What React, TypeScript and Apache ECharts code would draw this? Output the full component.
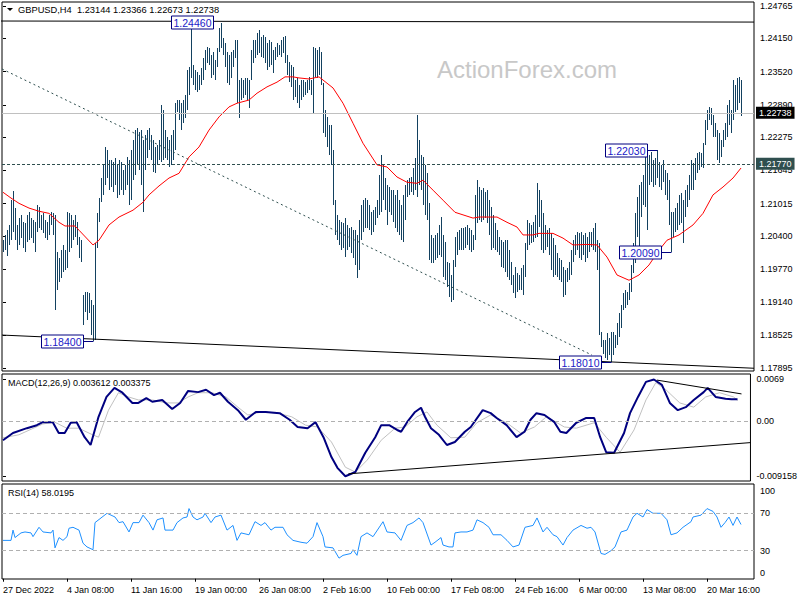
import React, { useEffect, useRef } from "react";
import * as echarts from "echarts";

const FONT = "'Liberation Sans', Arial, sans-serif";

const xLabels = ["27 Dec 2022", "4 Jan 08:00", "11 Jan 16:00", "19 Jan 00:00", "26 Jan 08:00", "2 Feb 16:00", "10 Feb 00:00", "17 Feb 08:00", "24 Feb 16:00", "6 Mar 00:00", "13 Mar 08:00", "20 Mar 16:00"];
const xLabelIdx = [0, 32, 64, 96, 128, 160, 192, 224, 256, 288, 320, 352];

const priceTicks = [1.24765, 1.2415, 1.2352, 1.2289, 1.22275, 1.21645, 1.21015, 1.204, 1.1977, 1.1914, 1.18525, 1.17895];
const macdTicks = [0.0069, 0, -0.009158];
const macdTickLabels = ["0.0069", "0.00", "-0.009158"];
const rsiTicks = [30, 70];
const rsiEdgeTicks = [0, 100];

const highs = [
  1.2032, 1.2042, 1.2051, 1.2061, 1.2108, 1.2125, 1.2093, 1.2061, 1.2074, 1.2080,
  1.2066, 1.2064, 1.2080, 1.2085, 1.2074, 1.2070, 1.2066, 1.2099, 1.2095, 1.2080,
  1.2083, 1.2070, 1.2066, 1.2080, 1.2085, 1.2083, 1.2080, 1.2009, 1.1998, 1.2013,
  1.2023, 1.2013, 1.2085, 1.2083, 1.2080, 1.2070, 1.2080, 1.2066, 1.2038, 1.2032,
  1.1928, 1.1933, 1.1933, 1.1931, 1.1918, 1.1909, 1.2026, 1.2083, 1.2112, 1.2150,
  1.2175, 1.2209, 1.2203, 1.2184, 1.2184, 1.2180, 1.2188, 1.2175, 1.2184, 1.2180,
  1.2165, 1.2175, 1.2190, 1.2184, 1.2203, 1.2222, 1.2241, 1.2245, 1.2237, 1.2241,
  1.2222, 1.2232, 1.2241, 1.2245, 1.2232, 1.2222, 1.2209, 1.2213, 1.2222, 1.2289,
  1.2279, 1.2241, 1.2228, 1.2222, 1.2232, 1.2241, 1.2292, 1.2298, 1.2298, 1.2292,
  1.2298, 1.2308, 1.2355, 1.2361, 1.2446, 1.2365, 1.2355, 1.2351, 1.2346, 1.2359,
  1.2378, 1.2393, 1.2399, 1.2397, 1.2384, 1.2389, 1.2374, 1.2397, 1.2435, 1.2444,
  1.2416, 1.2406, 1.2389, 1.2384, 1.2389, 1.2393, 1.2412, 1.2412, 1.2336, 1.2340,
  1.2336, 1.2340, 1.2340, 1.2336, 1.2393, 1.2412, 1.2412, 1.2425, 1.2431, 1.2418,
  1.2422, 1.2418, 1.2406, 1.2412, 1.2408, 1.2393, 1.2399, 1.2406, 1.2403, 1.2412,
  1.2418, 1.2420, 1.2384, 1.2370, 1.2365, 1.2361, 1.2336, 1.2340, 1.2327, 1.2336,
  1.2336, 1.2332, 1.2336, 1.2342, 1.2336, 1.2399, 1.2397, 1.2393, 1.2399, 1.2389,
  1.2330, 1.2279, 1.2266, 1.2251, 1.2251, 1.2203, 1.2108, 1.2080, 1.2070, 1.2066,
  1.2064, 1.2074, 1.2061, 1.2055, 1.2057, 1.2051, 1.2051, 1.2042, 1.2070, 1.2099,
  1.2108, 1.2112, 1.2108, 1.2099, 1.2085, 1.2089, 1.2095, 1.2108, 1.2156, 1.2194,
  1.2175, 1.2150, 1.2137, 1.2133, 1.2127, 1.2127, 1.2118, 1.2127, 1.2108, 1.2099,
  1.2118, 1.2137, 1.2146, 1.2150, 1.2152, 1.2169, 1.2188, 1.2270, 1.2222, 1.2194,
  1.2190, 1.2175, 1.2159, 1.2102, 1.2042, 1.2036, 1.2042, 1.2045, 1.2061, 1.2076,
  1.2042, 1.2028, 1.1990, 1.1988, 1.1966, 1.1994, 1.2038, 1.2047, 1.2051, 1.2055,
  1.2055, 1.2057, 1.2061, 1.2055, 1.2051, 1.2042, 1.2118, 1.2146, 1.2133, 1.2127,
  1.2131, 1.2123, 1.2127, 1.2108, 1.2095, 1.2080, 1.2064, 1.2051, 1.2038, 1.2032,
  1.2028, 1.2032, 1.2032, 1.2013, 1.1990, 1.1966, 1.1981, 1.1969, 1.1966, 1.1979,
  1.1985, 1.2026, 1.2070, 1.2064, 1.2061, 1.2066, 1.2080, 1.2140, 1.2127, 1.2108,
  1.2083, 1.2061, 1.2051, 1.2055, 1.2045, 1.2036, 1.2023, 1.2007, 1.1998, 1.1994,
  1.1981, 1.1975, 1.1979, 1.1990, 1.2013, 1.2032, 1.2042, 1.2047, 1.2045, 1.2047,
  1.2042, 1.2045, 1.2038, 1.2047, 1.2047, 1.2055, 1.2064, 1.2032, 1.2026, 1.1857,
  1.1842, 1.1842, 1.1855, 1.1846, 1.1857, 1.1857, 1.1852, 1.1874, 1.1893, 1.1909,
  1.1931, 1.1937, 1.1933, 1.1950, 1.1985, 1.2026, 1.2083, 1.2114, 1.2137, 1.2142,
  1.2156, 1.2190, 1.2197, 1.2194, 1.2199, 1.2184, 1.2188, 1.2203, 1.2180, 1.2175,
  1.2184, 1.2165, 1.2159, 1.2146, 1.2085, 1.2085, 1.2093, 1.2102, 1.2118, 1.2121,
  1.2108, 1.2127, 1.2137, 1.2156, 1.2184, 1.2178, 1.2188, 1.2197, 1.2199, 1.2197,
  1.2216, 1.2260, 1.2279, 1.2285, 1.2283, 1.2270, 1.2254, 1.2241, 1.2235, 1.2222,
  1.2241, 1.2254, 1.2289, 1.2298, 1.2279, 1.2336, 1.2327, 1.2340, 1.2342, 1.23366,
];

const lows = [
  1.2009, 1.2013, 1.2002, 1.2023, 1.2032, 1.2047, 1.2032, 1.2013, 1.2023, 1.2036,
  1.2017, 1.2009, 1.2028, 1.2032, 1.2036, 1.2026, 1.2009, 1.2047, 1.2055, 1.2051,
  1.2045, 1.2036, 1.2032, 1.2042, 1.2061, 1.2042, 1.1899, 1.1937, 1.1952, 1.1960,
  1.1971, 1.1975, 1.1979, 1.2009, 1.2017, 1.2032, 1.2038, 1.2023, 1.1998, 1.1990,
  1.1871, 1.1895, 1.1880, 1.1893, 1.1852, 1.1840, 1.1842, 1.2017, 1.2066, 1.2104,
  1.2118, 1.2137, 1.2150, 1.2127, 1.2133, 1.2123, 1.2137, 1.2112, 1.2118, 1.2127,
  1.2118, 1.2127, 1.2137, 1.2099, 1.2108, 1.2146, 1.2156, 1.2175, 1.2165, 1.2137,
  1.2085, 1.2165, 1.2188, 1.2203, 1.2184, 1.2161, 1.2159, 1.2175, 1.2184, 1.2180,
  1.2184, 1.2188, 1.2184, 1.2171, 1.2175, 1.2184, 1.2203, 1.2275, 1.2260, 1.2241,
  1.2254, 1.2264, 1.2279, 1.2308, 1.2340, 1.2327, 1.2317, 1.2313, 1.2317, 1.2327,
  1.2336, 1.2355, 1.2368, 1.2365, 1.2340, 1.2346, 1.2336, 1.2361, 1.2389, 1.2397,
  1.2384, 1.2361, 1.2330, 1.2327, 1.2340, 1.2361, 1.2378, 1.2292, 1.2264, 1.2298,
  1.2302, 1.2308, 1.2298, 1.2283, 1.2336, 1.2368, 1.2378, 1.2384, 1.2387, 1.2380,
  1.2378, 1.2368, 1.2355, 1.2361, 1.2365, 1.2349, 1.2374, 1.2380, 1.2384, 1.2380,
  1.2387, 1.2368, 1.2346, 1.2332, 1.2323, 1.2298, 1.2304, 1.2292, 1.2283, 1.2298,
  1.2304, 1.2308, 1.2311, 1.2317, 1.2308, 1.2273, 1.2342, 1.2340, 1.2346, 1.2327,
  1.2235, 1.2228, 1.2209, 1.2194, 1.2175, 1.2099, 1.2042, 1.2032, 1.2023, 1.2013,
  1.2017, 1.2000, 1.2013, 1.2019, 1.2007, 1.1998, 1.1985, 1.1960, 1.1975, 1.2032,
  1.2047, 1.2055, 1.2055, 1.2051, 1.2042, 1.2047, 1.2061, 1.2074, 1.2080, 1.2085,
  1.2108, 1.2089, 1.2061, 1.2085, 1.2080, 1.2066, 1.2055, 1.2047, 1.2042, 1.2032,
  1.2028, 1.2070, 1.2114, 1.2118, 1.2123, 1.2118, 1.2127, 1.2114, 1.2137, 1.2127,
  1.2099, 1.2080, 1.2070, 1.1994, 1.1988, 1.1988, 1.1994, 1.1998, 1.2004, 1.2000,
  1.1962, 1.1956, 1.1943, 1.1924, 1.1914, 1.1918, 1.1981, 1.2004, 1.2013, 1.2013,
  1.2013, 1.2017, 1.2023, 1.2013, 1.2009, 1.2013, 1.2032, 1.2064, 1.2070, 1.2066,
  1.2070, 1.2074, 1.2064, 1.2042, 1.2013, 1.2017, 1.2013, 1.2009, 1.2004, 1.1981,
  1.1979, 1.1971, 1.1962, 1.1956, 1.1947, 1.1931, 1.1922, 1.1933, 1.1937, 1.1937,
  1.1928, 1.1962, 1.2013, 1.2023, 1.2026, 1.2028, 1.2036, 1.2038, 1.2057, 1.2013,
  1.2007, 1.2013, 1.2019, 1.2004, 1.1975, 1.1962, 1.1966, 1.1962, 1.1956, 1.1952,
  1.1924, 1.1928, 1.1952, 1.1956, 1.1966, 1.1990, 1.2004, 1.2013, 1.1998, 1.1994,
  1.2004, 1.1990, 1.1998, 1.2009, 1.2019, 1.2013, 1.2009, 1.1975, 1.1852, 1.1829,
  1.1817, 1.1808, 1.1804, 1.1814, 1.1801, 1.1814, 1.1827, 1.1833, 1.1848, 1.1865,
  1.1899, 1.1903, 1.1909, 1.1918, 1.1933, 1.1969, 1.1988, 1.2038, 1.2007, 1.2076,
  1.2099, 1.2095, 1.2051, 1.2137, 1.2142, 1.2133, 1.2137, 1.2150, 1.2133, 1.2127,
  1.2142, 1.2118, 1.2108, 1.2061, 1.2009, 1.2038, 1.2047, 1.2051, 1.2061, 1.2064,
  1.2026, 1.2076, 1.2095, 1.2108, 1.2127, 1.2127, 1.2146, 1.2159, 1.2165, 1.2171,
  1.2169, 1.2213, 1.2241, 1.2260, 1.2251, 1.2228, 1.2228, 1.2184, 1.2178, 1.2190,
  1.2209, 1.2222, 1.2228, 1.2251, 1.2235, 1.2260, 1.2275, 1.2279, 1.2292, 1.22673,
];

// moving average (red), sampled [barIndex, price]
const maPoints = [
  [0, 1.2123], [4, 1.2112], [8, 1.2102], [13, 1.2093], [18, 1.2087], [23, 1.2083], [28, 1.2066], [31, 1.2059],
  [36, 1.2059], [38, 1.2051], [45, 1.2023], [48, 1.2032], [53, 1.2061], [58, 1.2076], [65, 1.2089], [70, 1.2104],
  [73, 1.2118], [78, 1.2135], [83, 1.2150], [88, 1.2159], [93, 1.2190], [98, 1.2209], [103, 1.2241], [108, 1.2266],
  [113, 1.2285], [117, 1.2292], [123, 1.2298], [127, 1.2311], [132, 1.2323], [137, 1.2332], [141, 1.2342], [145, 1.2342],
  [148, 1.2340], [153, 1.2338], [158, 1.2342], [165, 1.2321], [170, 1.2292], [175, 1.2254], [180, 1.2216], [187, 1.2175],
  [192, 1.2171], [197, 1.2152], [202, 1.2142], [207, 1.2140], [210, 1.2146], [215, 1.2127], [220, 1.2108], [226, 1.2085],
  [235, 1.2074], [238, 1.2076], [247, 1.2076], [252, 1.2066], [257, 1.2057], [260, 1.2042], [265, 1.2042], [268, 1.2045],
  [275, 1.2045], [280, 1.2036], [285, 1.2023], [292, 1.2024], [297, 1.2023], [302, 1.2000], [307, 1.1966], [313, 1.1956],
  [318, 1.1966], [323, 1.1985], [328, 1.2013], [332, 1.2032], [338, 1.2042], [345, 1.2061], [350, 1.2083], [355, 1.2118],
  [360, 1.2133], [365, 1.2150], [369, 1.2169],
];

const macdMain = [
  [0, -0.0032], [5, -0.0020], [12, -0.0012], [17, -0.0007], [20, -0.0002], [25, -0.0002], [28, -0.0020], [31, -0.0020],
  [34, -0.0003], [37, -0.0002], [41, -0.0027], [44, -0.0040], [48, 0.0007], [52, 0.0040], [56, 0.0055], [60, 0.0047],
  [65, 0.0030], [68, 0.0030], [72, 0.0038], [75, 0.0032], [80, 0.0035], [85, 0.0020], [89, 0.0030], [93, 0.0050],
  [98, 0.0048], [102, 0.0052], [106, 0.0043], [109, 0.0047], [113, 0.0032], [118, 0.0018], [122, 0.0002], [127, 0.0015],
  [132, 0.0015], [139, 0.0013], [144, 0.0002], [148, -0.0010], [153, -0.0012], [157, -0.0002], [161, -0.0027], [165, -0.0060],
  [168, -0.0078], [172, -0.0092], [177, -0.0085], [182, -0.0053], [187, -0.0027], [190, -0.0007], [194, -0.0007], [198, -0.0015],
  [200, -0.0018], [203, -0.0002], [207, 0.0015], [210, 0.0022], [212, 0.0007], [215, -0.0012], [219, -0.0023], [223, -0.0040],
  [227, -0.0035], [232, -0.0018], [235, -0.0010], [241, 0.0018], [245, 0.0013], [248, 0.0005], [253, -0.0007], [258, -0.0027],
  [262, -0.0018], [265, 0.0002], [268, 0.0013], [272, 0.0010], [277, -0.0002], [280, -0.0018], [283, -0.0020], [288, -0.0003],
  [293, 0.0005], [297, 0.0005], [300, -0.0027], [303, -0.0052], [307, -0.0053], [312, -0.0020], [315, 0.0013], [319, 0.0040],
  [323, 0.0065], [327, 0.0069], [331, 0.0060], [335, 0.0030], [339, 0.0018], [343, 0.0023], [347, 0.0035], [352, 0.0048],
  [354, 0.0055], [358, 0.0040], [363, 0.0037], [366, 0.0036], [369, 0.0036],
];

const macdSignal = [
  [0, -0.0028], [8, -0.0023], [20, -0.0005], [26, -0.0002], [32, -0.0012], [38, -0.0012], [45, -0.0023], [48, -0.0027],
  [53, 0.0018], [58, 0.0047], [63, 0.0040], [68, 0.0035], [75, 0.0035], [82, 0.0030], [88, 0.0030], [93, 0.0040],
  [98, 0.0047], [105, 0.0047], [112, 0.0040], [118, 0.0023], [123, 0.0010], [130, 0.0015], [138, 0.0013], [145, 0.0007],
  [152, -0.0007], [158, -0.0010], [165, -0.0035], [172, -0.0077], [177, -0.0085], [183, -0.0065], [190, -0.0032], [197, -0.0012],
  [202, -0.0010], [208, 0.0007], [213, 0.0015], [218, -0.0007], [225, -0.0028], [232, -0.0027], [238, -0.0003], [245, 0.0010],
  [253, -0.0003], [260, -0.0020], [267, -0.0010], [273, 0.0007], [282, -0.0010], [288, -0.0012], [297, -0.0003], [303, -0.0027],
  [310, -0.0052], [317, -0.0015], [323, 0.0035], [328, 0.0064], [333, 0.0052], [340, 0.0030], [347, 0.0023], [353, 0.0040],
  [360, 0.0047], [367, 0.0040], [369, 0.0034],
];

const rsiPoints = [
  [0, 41], [4, 41], [5, 52], [6, 44], [9, 49], [11, 50], [14, 49], [15, 45], [18, 55], [20, 50], [24, 49], [25, 52], [26, 33],
  [28, 44], [30, 41], [32, 45], [33, 54], [35, 55], [38, 52], [40, 38], [42, 34], [45, 31], [46, 60], [49, 65], [52, 70],
  [56, 66], [58, 60], [60, 61], [63, 50], [65, 60], [68, 60], [70, 68], [73, 60], [75, 52], [77, 63], [80, 65], [81, 52],
  [85, 52], [87, 60], [90, 65], [92, 66], [93, 75], [95, 66], [97, 63], [100, 66], [101, 70], [104, 60], [106, 66], [109, 68],
  [112, 52], [115, 57], [117, 41], [119, 49], [123, 47], [126, 61], [129, 57], [131, 60], [134, 52], [136, 55], [140, 55],
  [142, 47], [145, 41], [149, 39], [152, 38], [155, 45], [157, 60], [160, 45], [161, 34], [165, 33], [168, 22], [170, 25],
  [174, 27], [175, 31], [177, 25], [179, 45], [182, 49], [185, 45], [190, 61], [192, 50], [196, 49], [199, 41], [202, 57],
  [205, 60], [208, 65], [210, 60], [214, 36], [216, 39], [219, 44], [220, 36], [223, 34], [225, 34], [226, 49], [229, 50],
  [232, 50], [235, 52], [237, 63], [240, 60], [243, 55], [245, 47], [249, 47], [252, 41], [255, 34], [258, 36], [261, 55],
  [265, 57], [267, 65], [270, 50], [272, 55], [275, 47], [277, 45], [280, 36], [282, 44], [285, 52], [289, 57], [292, 54],
  [294, 55], [296, 50], [299, 27], [301, 26], [304, 30], [306, 34], [309, 50], [312, 52], [315, 66], [317, 70], [320, 66],
  [322, 74], [325, 70], [329, 70], [332, 63], [334, 47], [337, 49], [340, 55], [344, 61], [345, 66], [349, 68], [352, 75],
  [355, 72], [357, 66], [359, 55], [361, 60], [363, 66], [365, 57], [367, 66], [369, 58],
];

// drawn trend lines [barIndex, value]
const resistanceLine = [[-1.5, 1.2448], [375.5, 1.2446]];
const supportLine = [[-0.5, 1.1852], [375.5, 1.1789]];
const dottedLine = [[-0.5, 1.2357], [294.5, 1.1814]];
const macdLowLine = [[173.5, -0.0088], [375.5, -0.0036]];
const macdHighLine = [[328.5, 0.0068], [371, 0.0045]];

// price labels
const annIdx = [94, 45, 304, 334, 327];
const annPrice = [1.2446, 1.184, 1.1801, 1.2009, 1.2203];
const annCentered = [1, 0, 0, 0, 0];

const bidPrice = 1.22738;
const levelPrice = 1.2177;

const BAR = "#134160";
const NAVY = "#000080";

function buildOption() {
  const barData = highs.map((h, i) => [i, h, lows[i]]);
  const annData = annIdx.map((i, k) => [i, annPrice[k], annCentered[k]]);
  const labelStyle = { color: "#000", fontSize: 9, fontFamily: FONT };
  const xBase = { type: "value", min: -0.5, max: 375.5, splitLine: { show: false }, axisLine: { show: false } };
  const plainLine = (data: number[][], xi: number, yi: number, style: any) => ({
    type: "line", xAxisIndex: xi, yAxisIndex: yi, data, symbol: "none", silent: true,
    lineStyle: style, z: 4,
  });
  const priceBox = (bg: string) => ({
    show: true, position: "end", distance: 2, color: "#fff", backgroundColor: bg,
    padding: [2, 3, 1, 3], fontSize: 9, fontFamily: FONT,
  });

  return {
    animation: false,
    backgroundColor: "#fff",
    grid: [
      { left: 2, right: 46, top: 2, height: 369, show: true, borderColor: "#000", borderWidth: 1 },
      { left: 2, right: 46, top: 374, height: 107, show: true, borderColor: "#000", borderWidth: 1 },
      { left: 2, right: 46, top: 484, height: 95, show: true, borderColor: "#000", borderWidth: 1 },
    ],
    xAxis: [
      { ...xBase, gridIndex: 0, show: false },
      { ...xBase, gridIndex: 1, show: false },
      {
        ...xBase, gridIndex: 2,
        axisTick: { show: true, customValues: xLabelIdx, length: 3, lineStyle: { color: "#000" } },
        axisLabel: {
          ...labelStyle, customValues: xLabelIdx, align: "left", margin: 6,
          formatter: (v: number) => xLabels[xLabelIdx.indexOf(Math.round(v))] ?? "",
        },
      },
    ],
    yAxis: [
      {
        type: "value", gridIndex: 0, position: "right", min: 1.17838, max: 1.24841,
        splitLine: { show: false }, axisLine: { show: false },
        axisTick: { show: true, customValues: priceTicks, length: 3, lineStyle: { color: "#000" } },
        axisLabel: { ...labelStyle, customValues: priceTicks, margin: 6, formatter: (v: number) => v.toFixed(5) },
      },
      {
        type: "value", gridIndex: 1, position: "right", min: -0.00999, max: 0.007815,
        splitLine: { show: false }, axisLine: { show: false },
        axisTick: { show: true, customValues: macdTicks, length: 3, lineStyle: { color: "#000" } },
        axisLabel: {
          ...labelStyle, customValues: macdTicks, margin: 6,
          formatter: (v: number) => {
            let best = 0;
            macdTicks.forEach((t, k) => { if (Math.abs(t - v) < Math.abs(macdTicks[best] - v)) best = k; });
            return macdTickLabels[best];
          },
        },
      },
      {
        type: "value", gridIndex: 2, position: "right", min: -0.3, max: 101.3,
        splitLine: { show: false }, axisLine: { show: false },
        axisTick: { show: true, customValues: rsiTicks, length: 3, lineStyle: { color: "#000" } },
        axisLabel: { ...labelStyle, customValues: rsiTicks, margin: 6, formatter: (v: number) => String(Math.round(v)) },
      },
      {
        type: "value", gridIndex: 2, position: "right", min: -7.7, max: 108.2,
        splitLine: { show: false }, axisLine: { show: false }, axisTick: { show: false },
        axisLabel: { ...labelStyle, customValues: rsiEdgeTicks, margin: 6, formatter: (v: number) => String(Math.round(v)) },
      },
    ],
    graphic: [
      { type: "polygon", shape: { points: [[7, 8], [13, 8], [10, 11]] }, style: { fill: "#000" } },
      { type: "text", left: 18, top: 5, style: { text: "GBPUSD,H4  1.23144 1.23366 1.22673 1.22738", fill: "#000", font: `9.3px ${FONT}` } },
      { type: "text", left: 437, top: 57, z: 0, style: { text: "ActionForex.com", fill: "#C8C8C8", font: `24px ${FONT}` } },
      { type: "text", left: 8, top: 378, style: { text: "MACD(12,26,9) 0.003612 0.003375", fill: "#000", font: `9px ${FONT}` } },
      { type: "text", left: 8, top: 488, style: { text: "RSI(14) 58.0195", fill: "#000", font: `9px ${FONT}` } },
    ],
    series: [
      {
        type: "custom", xAxisIndex: 0, yAxisIndex: 0, data: barData, encode: { x: 0, y: [1, 2] }, z: 2,
        renderItem: (_p: any, api: any) => {
          const i = api.value(0);
          const top = api.coord([i, api.value(1)]);
          const bot = api.coord([i, api.value(2)]);
          const y0 = Math.round(top[1]);
          return {
            type: "rect",
            shape: { x: Math.floor(top[0]), y: y0, width: 1, height: Math.max(1, Math.round(bot[1]) - y0) },
            style: { fill: BAR },
          };
        },
      },
      {
        ...plainLine(maPoints, 0, 0, { color: "#FF0000", width: 1 }),
        markLine: {
          silent: true, symbol: ["none", "none"], animation: false, precision: 5,
          data: [
            { yAxis: bidPrice, lineStyle: { color: "#C0C0C0", type: "solid", width: 1 }, label: { ...priceBox("#000"), formatter: bidPrice.toFixed(5) } },
            { yAxis: levelPrice, lineStyle: { color: "#2F4F4F", type: [3, 2], width: 1 }, label: { ...priceBox("#2F4F4F"), formatter: levelPrice.toFixed(5) } },
          ],
        },
      },
      plainLine(resistanceLine, 0, 0, { color: "#000", width: 1 }),
      plainLine(supportLine, 0, 0, { color: "#000", width: 1 }),
      plainLine(dottedLine, 0, 0, { color: "#2F4F4F", width: 1, type: [2, 3] }),
      {
        type: "custom", xAxisIndex: 0, yAxisIndex: 0, data: annData, z: 6, silent: true,
        renderItem: (_p: any, api: any) => {
          const pt = api.coord([api.value(0), api.value(1)]);
          const x = Math.floor(pt[0]) + 0.5;
          const y = Math.round(pt[1]) + 0.5;
          const w = 42, h = 13;
          const centered = api.value(2) === 1;
          const bx = centered ? Math.round(x - w / 2) + 0.5 : x - 10 - w;
          const children: any[] = [];
          if (!centered) children.push({ type: "line", shape: { x1: bx + w, y1: y, x2: x, y2: y }, style: { stroke: NAVY, lineWidth: 1 } });
          children.push({ type: "rect", shape: { x: bx, y: y - h / 2, width: w, height: h }, style: { fill: "#fff", stroke: NAVY, lineWidth: 1 } });
          children.push({
            type: "text",
            style: { x: bx + w / 2, y: y + 0.5, text: Number(api.value(1)).toFixed(5), align: "center", verticalAlign: "middle", fill: "#1A1AC8", fontSize: 10.5, fontFamily: FONT },
          });
          return { type: "group", children };
        },
      },
      {
        type: "line", xAxisIndex: 1, yAxisIndex: 1, data: macdSignal, symbol: "none", silent: true, z: 3,
        lineStyle: { color: "#C0C0C0", width: 1 },
        markLine: {
          silent: true, symbol: ["none", "none"], animation: false, label: { show: false },
          data: [{ yAxis: 0 }], lineStyle: { color: "#B0B0B0", type: [4, 3], width: 1 },
        },
      },
      { type: "line", xAxisIndex: 1, yAxisIndex: 1, data: macdMain, symbol: "none", silent: true, z: 4, lineStyle: { color: NAVY, width: 2 } },
      plainLine(macdLowLine, 1, 1, { color: "#000", width: 1 }),
      plainLine(macdHighLine, 1, 1, { color: "#000", width: 1 }),
      {
        type: "line", xAxisIndex: 2, yAxisIndex: 2, data: rsiPoints, symbol: "none", silent: true, z: 4,
        lineStyle: { color: "#1E90FF", width: 1 },
        markLine: {
          silent: true, symbol: ["none", "none"], animation: false, label: { show: false },
          data: [{ yAxis: 70 }, { yAxis: 30 }], lineStyle: { color: "#B0B0B0", type: [4, 3], width: 1 },
        },
      },
    ],
  };
}

export default function App() {
  const ref = useRef<HTMLDivElement>(null);
  useEffect(() => {
    document.body.style.margin = "0";
    const chart = echarts.init(ref.current!, null, { renderer: "svg" });
    chart.setOption(buildOption() as any);
    return () => chart.dispose();
  }, []);
  return <div ref={ref} style={{ width: 800, height: 600 }} />;
}
